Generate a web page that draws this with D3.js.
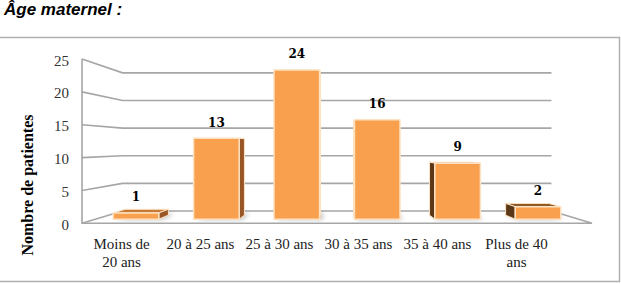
<!DOCTYPE html>
<html>
<head>
<meta charset="utf-8">
<script src="https://cdn.jsdelivr.net/npm/d3@7"></script>
<style>
  body { margin: 0; background: #fff; }
  svg { display: block; }
</style>
</head>
<body>
<svg id="chart" width="621" height="284"></svg>
<script>
// data
const categories = ["Moins de 20 ans", "20 à 25 ans", "25 à 30 ans", "30 à 35 ans", "35 à 40 ans", "Plus de 40 ans"];
const patients = [1, 13, 24, 16, 9, 2];
const yTicks = [0, 5, 10, 15, 20, 25];

const svg = d3.select("#chart");

// perspective box: front plane coords, projected toward a vanishing point
const vp = { x: 337, y: 146 };
const depth = { floor: 1, barFront: 0.946, barBack: 0.895, wall: 0.841 };
const proj = (X, Y, s) => [vp.x + s * (X - vp.x), vp.y + s * (Y - vp.y)];

const x = d3.scaleBand().domain(categories).range([82, 592]).paddingInner(0.433).paddingOuter(0.2165);
const y = d3.scaleLinear().domain([0, 25]).range([223.3, 59]);
const xLabel = d3.scaleBand().domain(categories).range([82, 556]);

const defs = svg.append("defs");
defs.append("filter").attr("id", "blur").attr("x", "-50%").attr("y", "-50%").attr("width", "200%").attr("height", "200%")
  .append("feGaussianBlur").attr("stdDeviation", 2.5);

// outer frame
svg.append("path")
  .attr("d", "M0,37.5 H619.5 V281.5 H0")
  .attr("fill", "none").attr("stroke", "#b0b0b0").attr("stroke-width", 1.5);

// title
svg.append("text")
  .attr("x", 4).attr("y", 15)
  .attr("font-family", "Liberation Sans, Arial, sans-serif")
  .attr("font-weight", "bold").attr("font-style", "italic")
  .attr("font-size", 17)
  .text("Âge maternel :");

const grid = "#a6a6a6";
const line = d3.line();

// gridlines: left wall + back wall
svg.append("g").selectAll("path").data(yTicks).join("path")
  .attr("d", t => line([proj(82, y(t), depth.floor), proj(82, y(t), depth.wall), proj(592, y(t), depth.wall)]))
  .attr("fill", "none").attr("stroke", grid).attr("stroke-width", 1.6);

// front-left edge, floor front and right edges
svg.append("path")
  .attr("d", line([[82, y(25)], [82, y(0)], [592, y(0)], proj(592, y(0), depth.wall)]))
  .attr("fill", "none").attr("stroke", grid).attr("stroke-width", 1.6);

// tick labels
svg.append("g").selectAll("text").data(yTicks).join("text")
  .attr("x", 69).attr("y", t => y(t) + 6.5)
  .attr("text-anchor", "end")
  .attr("font-family", "Liberation Serif, serif").attr("font-size", 15)
  .attr("fill", "#333")
  .text(d => d);

// y title
svg.append("text")
  .attr("transform", "translate(33,185) rotate(-90)")
  .attr("text-anchor", "middle")
  .attr("font-family", "Liberation Serif, serif").attr("font-weight", "bold")
  .attr("font-size", 16)
  .text("Nombre de patientes");

const bars = categories.map((c, i) => {
  const x0 = x(c), x1 = x(c) + x.bandwidth();
  const yt = y(patients[i]), yb = y(0);
  return {
    c, v: patients[i], x0, x1, yt, yb,
    leftOfCenter: (x0 + x1) / 2 < vp.x
  };
});

const g = svg.append("g");

// floor shadows
g.selectAll(".shadow").data(bars).join("path")
  .attr("class", "shadow")
  .attr("d", b => line([proj(b.x0 + 3, b.yb, depth.barFront), proj(b.x1 + 3, b.yb, depth.barFront),
    proj(b.x1 + 3, b.yb, depth.barBack - 0.02), proj(b.x0 + 3, b.yb, depth.barBack - 0.02)]) + "Z")
  .attr("fill", "#000").attr("opacity", 0.3).attr("filter", "url(#blur)");

const edge = "#fde2c2";

// top faces
g.selectAll(".top").data(bars).join("path")
  .attr("class", "top")
  .attr("d", b => line([proj(b.x0, b.yt, depth.barFront), proj(b.x1, b.yt, depth.barFront),
    proj(b.x1, b.yt, depth.barBack), proj(b.x0, b.yt, depth.barBack)]) + "Z")
  .attr("fill", b => b.leftOfCenter ? "#c67a38" : "#8d5a2a")
  .attr("stroke", edge).attr("stroke-width", 1).attr("stroke-linejoin", "round");

// side faces
g.selectAll(".side").data(bars).join("path")
  .attr("class", "side")
  .attr("d", b => {
    const xs = b.leftOfCenter ? b.x1 : b.x0;
    return line([proj(xs, b.yt, depth.barFront), proj(xs, b.yb, depth.barFront),
      proj(xs, b.yb, depth.barBack), proj(xs, b.yt, depth.barBack)]) + "Z";
  })
  .attr("fill", b => b.leftOfCenter ? "#985628" : "#5a3717")
  .attr("stroke", edge).attr("stroke-width", 1).attr("stroke-linejoin", "round");

// front faces
g.selectAll(".front").data(bars).join("path")
  .attr("class", "front")
  .attr("d", b => line([proj(b.x0, b.yt, depth.barFront), proj(b.x1, b.yt, depth.barFront),
    proj(b.x1, b.yb, depth.barFront), proj(b.x0, b.yb, depth.barFront)]) + "Z")
  .attr("fill", "#f9a04f")
  .attr("stroke", edge).attr("stroke-width", 1.5).attr("stroke-linejoin", "round");

// value labels
g.selectAll(".val").data(bars).join("text")
  .attr("class", "val")
  .attr("x", b => proj((b.x0 + b.x1) / 2, b.yt, depth.barFront)[0])
  .attr("y", b => proj((b.x0 + b.x1) / 2, b.yt, depth.barFront)[1] - 11.7)
  .attr("text-anchor", "middle")
  .attr("font-family", "DejaVu Serif, serif").attr("font-weight", "bold")
  .attr("font-size", 12)
  .text(b => b.v);

// category labels with wrapping
const cat = svg.append("g").selectAll("text").data(categories).join("text")
  .attr("x", c => xLabel(c) + xLabel.bandwidth() / 2)
  .attr("y", 249)
  .attr("text-anchor", "middle")
  .attr("font-family", "Liberation Serif, serif").attr("font-size", 15)
  .attr("fill", "#222");

cat.each(function (c) {
  const el = d3.select(this);
  const words = c.split(" ");
  let lines = [], cur = [];
  const probe = el.append("tspan");
  words.forEach(w => {
    const test = cur.concat(w).join(" ");
    probe.text(test);
    if (probe.node().getComputedTextLength() > 70 && cur.length) {
      lines.push(cur.join(" "));
      cur = [w];
    } else cur.push(w);
  });
  lines.push(cur.join(" "));
  probe.remove();
  lines.forEach((l, i) => {
    el.append("tspan").attr("x", el.attr("x")).attr("dy", i ? 17.5 : 0).text(l);
  });
});
</script>
</body>
</html>
